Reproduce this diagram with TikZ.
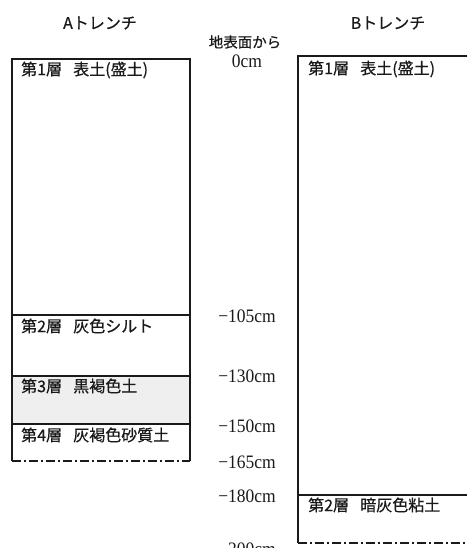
\documentclass[tikz,border=0pt]{standalone}
\usepackage{fontspec}
\newfontfamily\jp[FakeBold=0.6]{Noto Sans CJK JP}
\newfontfamily\ser[FakeStretch=0.92]{Liberation Serif}
\definecolor{layergray}{HTML}{EFEFEF}
\definecolor{ink}{HTML}{1A1A1A}
\begin{document}
\begin{tikzpicture}[x=1pt,y=-1pt,
  wall/.style={draw=ink,line width=1.2pt},
  base/.style={draw=ink,line width=1.2pt,dash pattern=on 9pt off 3pt on 2pt off 3pt},
  layer/.style={anchor=west,inner sep=0pt,font=\jp\fontsize{16}{18}\selectfont,text=ink},
  title/.style={inner sep=0pt,font=\jp\fontsize{16}{18}\selectfont,text=ink},
  depth/.style={inner sep=0pt,font=\ser\fontsize{19}{21}\selectfont,text=ink}]
\useasboundingbox (0,0) rectangle (467,548);
% A trench
\fill[layergray] (12,376) rectangle (190,424);
\draw[wall] (12,461) -- (12,59) -- (190,59) -- (190,461);
\draw[wall] (12,315) -- (190,315);
\draw[wall] (12,376) -- (190,376);
\draw[wall] (12,424) -- (190,424);
\draw[base] (12,461) -- (190,461);
% B trench
\draw[wall] (467,56) -- (298,56) -- (298,543);
\draw[wall] (298,495) -- (467,495);
\draw[base] (298,543) -- (467,543);
% titles
\node[title] (ta) at (100,23) {Aトレンチ};
\node[title] (tb) at (388,23) {Bトレンチ};
\node[title,font=\jp\fontsize{14.5}{16}\selectfont] (ref) at (245,42) {地表面から};
% layer labels
\node[layer] (a1) at (21,70) {第1層\hspace{0.7em}表土(盛土)};
\node[layer] (a2) at (21,326) {第2層\hspace{0.7em}灰色シルト};
\node[layer] (a3) at (21,386) {第3層\hspace{0.7em}黒褐色土};
\node[layer] (a4) at (21,435) {第4層\hspace{0.7em}灰褐色砂質土};
\node[layer] (b1) at (308,69) {第1層\hspace{0.7em}表土(盛土)};
\node[layer] (b2) at (308,505) {第2層\hspace{0.7em}暗灰色粘土};
% depths
\node[depth] (d0) at (247,61) {0cm};
\node[depth] (d105) at (247,316) {−105cm};
\node[depth] (d130) at (247,376) {−130cm};
\node[depth] (d150) at (247,426) {−150cm};
\node[depth] (d165) at (247,462) {−165cm};
\node[depth] (d180) at (247,496) {−180cm};
\node[depth] (d200) at (247,549) {−200cm};
\end{tikzpicture}
\end{document}
